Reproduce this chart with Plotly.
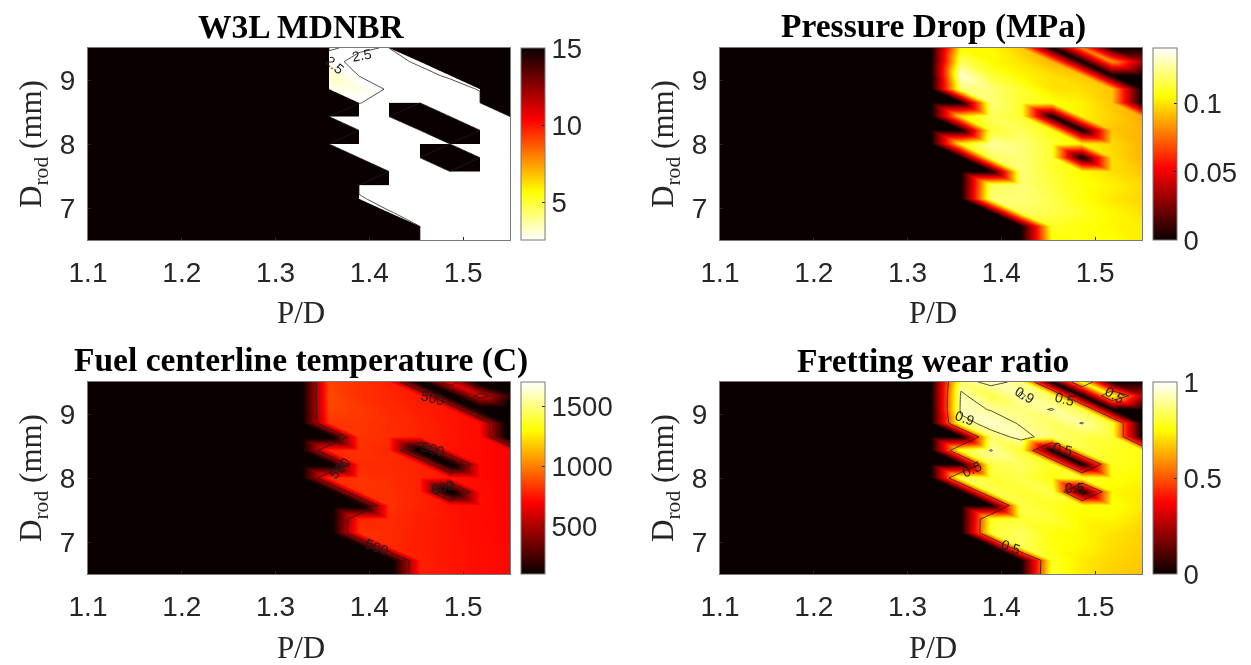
import plotly.graph_objects as go

pd_values = [1.1, 1.132, 1.164, 1.196, 1.229, 1.261, 1.293, 1.325, 1.357, 1.389, 1.421, 1.454, 1.486, 1.518, 1.55]
drod_values = [6.5, 6.714, 6.929, 7.143, 7.357, 7.571, 7.786, 8.0, 8.214, 8.429, 8.643, 8.857, 9.071, 9.286, 9.5]

# Rows run from the smallest Drod upward; 1000 / 0 mark the failed designs.
mdnbr = [
 [1000,1000,1000,1000,1000,1000,1000,1000,1000,1000,1000,2.2,2.2,2.2,2.2],
 [1000,1000,1000,1000,1000,1000,1000,1000,1000,1000,1000,2.3,2.2,2.2,2.2],
 [1000,1000,1000,1000,1000,1000,1000,1000,1000,1000,2.55,2.2,2.2,2.2,2.2],
 [1000,1000,1000,1000,1000,1000,1000,1000,1000,2.6,2.2,2.2,2.2,2.2,2.2],
 [1000,1000,1000,1000,1000,1000,1000,1000,1000,2.3,2.2,2.2,2.2,2.2,2.2],
 [1000,1000,1000,1000,1000,1000,1000,1000,1000,1000,2.2,2.2,2.2,2.2,2.2],
 [1000,1000,1000,1000,1000,1000,1000,1000,1000,2.2,2.2,2.2,1000,2.2,2.2],
 [1000,1000,1000,1000,1000,1000,1000,1000,2.3,2.2,2.2,2.2,2.2,2.2,2.2],
 [1000,1000,1000,1000,1000,1000,1000,1000,1000,2.2,2.2,2.2,1000,2.2,2.2],
 [1000,1000,1000,1000,1000,1000,1000,1000,2.3,2.2,2.2,1000,2.2,2.2,2.2],
 [1000,1000,1000,1000,1000,1000,1000,1000,1000,2.52,2.3,2.2,2.2,2.2,1000],
 [1000,1000,1000,1000,1000,1000,1000,1000,2.9,2.9,2.42,2.3,2.2,2.55,1000],
 [1000,1000,1000,1000,1000,1000,1000,1000,3.4,2.48,2.3,2.3,2.6,1000,1000],
 [1000,1000,1000,1000,1000,1000,1000,1000,2.7,2.3,2.3,2.6,1000,16,16],
 [1000,1000,1000,1000,1000,1000,1000,1000,2.45,2.6,2.45,1000,16,1000,1000],
]
pressure = [
 [0,0,0,0,0,0,0,0,0,0,0,.106,.107,.106,.102],
 [0,0,0,0,0,0,0,0,0,0,0,.110,.107,.104,.102],
 [0,0,0,0,0,0,0,0,0,0,.118,.116,.110,.104,.100],
 [0,0,0,0,0,0,0,0,0,.122,.122,.116,.107,.101,.097],
 [0,0,0,0,0,0,0,0,0,.118,.122,.114,.107,.103,.098],
 [0,0,0,0,0,0,0,0,0,0,.122,.112,.105,.099,.094],
 [0,0,0,0,0,0,0,0,0,.118,.122,.112,0,.099,.090],
 [0,0,0,0,0,0,0,0,.105,.127,.122,.112,.103,.098,.090],
 [0,0,0,0,0,0,0,0,0,.113,.118,.108,0,.094,.090],
 [0,0,0,0,0,0,0,0,.100,.118,.112,0,.103,.096,.088],
 [0,0,0,0,0,0,0,0,0,.122,.112,.107,.103,.094,0],
 [0,0,0,0,0,0,0,0,.122,.122,.112,.100,.099,.094,0],
 [0,0,0,0,0,0,0,0,.135,.113,.104,.099,.094,0,0],
 [0,0,0,0,0,0,0,0,.118,.105,.100,.090,0,.085,.035],
 [0,0,0,0,0,0,0,0,.105,.105,.095,0,.080,0,0],
]
temperature = [
 [0,0,0,0,0,0,0,0,0,0,0,770,750,730,715],
 [0,0,0,0,0,0,0,0,0,0,0,775,750,730,715],
 [0,0,0,0,0,0,0,0,0,0,795,770,750,730,715],
 [0,0,0,0,0,0,0,0,0,820,800,770,750,725,710],
 [0,0,0,0,0,0,0,0,0,790,805,770,750,725,710],
 [0,0,0,0,0,0,0,0,0,0,815,780,745,730,710],
 [0,0,0,0,0,0,0,0,0,815,815,780,0,730,710],
 [0,0,0,0,0,0,0,0,800,825,805,780,750,725,705],
 [0,0,0,0,0,0,0,0,0,800,800,780,0,725,705],
 [0,0,0,0,0,0,0,0,800,815,790,0,745,725,705],
 [0,0,0,0,0,0,0,0,0,825,805,780,750,725,0],
 [0,0,0,0,0,0,0,0,820,825,805,780,750,725,0],
 [0,0,0,0,0,0,0,0,860,835,800,770,745,0,0],
 [0,0,0,0,0,0,0,0,870,815,790,760,0,620,200],
 [0,0,0,0,0,0,0,0,860,815,780,0,680,0,0],
]
fretting = [
 [0,0,0,0,0,0,0,0,0,0,0,.80,.72,.68,.66],
 [0,0,0,0,0,0,0,0,0,0,0,.78,.72,.69,.67],
 [0,0,0,0,0,0,0,0,0,0,.84,.76,.74,.70,.68],
 [0,0,0,0,0,0,0,0,0,.80,.84,.76,.74,.71,.68],
 [0,0,0,0,0,0,0,0,0,.78,.80,.80,.74,.74,.70],
 [0,0,0,0,0,0,0,0,0,0,.82,.78,.76,.76,.72],
 [0,0,0,0,0,0,0,0,0,.82,.80,.82,0,.74,.72],
 [0,0,0,0,0,0,0,0,.84,.80,.82,.76,.80,.76,.74],
 [0,0,0,0,0,0,0,0,0,.82,.84,.78,0,.78,.76],
 [0,0,0,0,0,0,0,0,.80,.905,.80,0,.82,.78,.76],
 [0,0,0,0,0,0,0,0,0,.85,.93,.86,.82,.80,0],
 [0,0,0,0,0,0,0,0,.85,.95,.89,.84,.905,.80,0],
 [0,0,0,0,0,0,0,0,.93,.895,.87,.905,.82,0,0],
 [0,0,0,0,0,0,0,0,.92,.82,.91,.84,0,.78,.28],
 [0,0,0,0,0,0,0,0,.86,.93,.876,0,.78,0,0],
]

titles = ["W3L MDNBR", "Pressure Drop (MPa)", "Fuel centerline temperature (C)", "Fretting wear ratio"]
panels = [mdnbr, pressure, temperature, fretting]
cranges = [(2.6, 15), (0, 0.141), (100, 1700), (0, 1)]
cticks = [[5, 10, 15], [0, 0.05, 0.1], [500, 1000, 1500], [0, 0.5, 1]]
cticktext = [["5", "10", "15"], ["0", "0.05", "0.1"], ["500", "1000", "1500"], ["0", "0.5", "1"]]
contour_levels = [(2.5, 2.5, 1), None, (500, 500, 1000), (0.5, 0.9, 0.4)]
x_ticks = [1.1, 1.2, 1.3, 1.4, 1.5]
y_ticks = [7, 8, 9]
# text, pixel x, pixel y, angle of the labels written on the contour lines
contour_labels = [
    ("2.5", 362, 55, -10), ("2.5", 335, 65, 40),
    ("500", 433, 398, 15), ("500", 433, 449, 15), ("500", 443, 487, -15), ("500", 340, 468, -45), ("500", 377, 547, 20),
    ("0.5", 1065, 399, 15), ("0.5", 1063, 449, 15), ("0.5", 1075, 488, 0), ("0.5", 972, 469, -25), ("0.5", 1011, 547, 20),
    ("0.5", 1115, 395, 30), ("0.9", 965, 418, 20), ("0.9", 1025, 395, 30),
]

W, H = 1251, 665
hot = [[0, "rgb(10,0,0)"], [0.375, "rgb(255,0,0)"], [0.75, "rgb(255,255,0)"], [1, "rgb(255,255,255)"]]
hot_flipped = [[0, "rgb(255,255,255)"], [0.25, "rgb(255,255,0)"], [0.625, "rgb(255,0,0)"], [1, "rgb(10,0,0)"]]
lefts, tops = [88, 720], [48, 382]
PW, PH, BAR = 422, 192, 24
INK = "rgb(38,38,38)"
EDGE = "rgb(120,120,120)"

nx, ny = len(pd_values), len(drod_values)
vx = [pd_values[c] for r in range(ny) for c in range(nx)]
vy = [drod_values[r] for r in range(ny) for c in range(nx)]
tris = []
for r in range(ny - 1):
    for c in range(nx - 1):
        a, b, d, e = r*nx+c, r*nx+c+1, (r+1)*nx+c, (r+1)*nx+c+1
        tris += [(a, b, d), (b, d, e)]

fig = go.Figure()
layout = dict(width=W, height=H, margin=dict(l=0, r=0, t=0, b=0, autoexpand=False), showlegend=False,
              paper_bgcolor="rgba(0,0,0,0)", plot_bgcolor="rgba(0,0,0,0)",
              font=dict(family="Liberation Sans", color=INK), annotations=[])
for n in range(4):
    L, T = lefts[n % 2], tops[n // 2]
    dx = [L / W, (L + PW) / W]
    dy = [1 - (T + PH) / H, 1 - T / H]
    s = "" if n == 0 else str(n + 1)
    z = panels[n]
    flat = [z[r][c] for r in range(ny) for c in range(nx)]
    good = tris
    if n == 0:
        # Failed designs saturate the reversed scale: those triangles are plain black.
        good = [t for t in tris if max(flat[v] for v in t) <= cranges[0][1]]
        bad = [t for t in tris if max(flat[v] for v in t) > cranges[0][1]]
        fig.add_trace(go.Mesh3d(
            x=vx, y=vy, z=[0] * len(vx), i=[t[0] for t in bad], j=[t[1] for t in bad], k=[t[2] for t in bad],
            color="rgb(10,0,0)", flatshading=True, hoverinfo="skip", scene="scene" + s, showscale=False,
            lighting=dict(ambient=1, diffuse=0, specular=0, roughness=1, fresnel=0)))
    fig.add_trace(go.Mesh3d(
        x=vx, y=vy, z=[0] * len(vx), i=[t[0] for t in good], j=[t[1] for t in good], k=[t[2] for t in good],
        intensity=flat, intensitymode="vertex",
        colorscale=hot_flipped if n == 0 else hot, cmin=cranges[n][0], cmax=cranges[n][1],
        lighting=dict(ambient=1, diffuse=0, specular=0, roughness=1, fresnel=0),
        flatshading=False, hoverinfo="skip", scene="scene" + s, showscale=True,
        colorbar=dict(thicknessmode="pixels", thickness=BAR, lenmode="pixels", len=PH,
                      x=(L + PW + 11) / W, xanchor="left", xpad=0, ypad=0,
                      y=1 - T / H, yanchor="top",
                      tickvals=cticks[n], ticktext=cticktext[n], ticks="inside", ticklen=3,
                      tickcolor=INK, outlinecolor=EDGE, outlinewidth=1,
                      tickfont=dict(family="Liberation Sans", size=27.5, color=INK))))
    noaxis = dict(visible=False, showbackground=False, showgrid=False, zeroline=False, showspikes=False)
    layout["scene" + s] = dict(
        domain=dict(x=dx, y=dy), bgcolor="rgba(0,0,0,0)",
        aspectmode="manual", aspectratio=dict(x=2 * PW / PH, y=2, z=0.1),
        camera=dict(eye=dict(x=0, y=0, z=0.5), up=dict(x=0, y=1, z=0), center=dict(x=0, y=0, z=0),
                    projection=dict(type="orthographic")),
        xaxis=dict(range=[pd_values[0], pd_values[-1]], **noaxis),
        yaxis=dict(range=[drod_values[0], drod_values[-1]], **noaxis),
        zaxis=dict(range=[-1, 1], **noaxis))
    xa, ya = "x" + s, "y" + s
    if contour_levels[n]:
        st, en, sz = contour_levels[n]
        fig.add_trace(go.Contour(
            x=pd_values, y=drod_values, z=z, xaxis=xa, yaxis=ya, showscale=False, hoverinfo="skip",
            autocontour=False,
            contours=dict(coloring="none", start=st, end=en, size=sz, showlabels=False),
            line=dict(color="rgb(30,30,30)", width=0.8, smoothing=0)))
    else:
        fig.add_trace(go.Scatter(x=[], y=[], xaxis=xa, yaxis=ya, hoverinfo="skip"))
    ax = dict(showgrid=False, zeroline=False, showline=True, mirror=True, linecolor=EDGE, linewidth=1,
              ticks="inside", ticklen=3, tickcolor=INK,
              tickfont=dict(family="Liberation Sans", size=28, color=INK))
    layout["xaxis" + s] = dict(domain=dx, range=[pd_values[0], pd_values[-1]], anchor=ya, ticklabelstandoff=7,
                               tickvals=x_ticks, ticktext=[f"{v:.1f}" for v in x_ticks], **ax)
    layout["yaxis" + s] = dict(domain=dy, range=[drod_values[0], drod_values[-1]], anchor=xa, ticklabelstandoff=6,
                               tickvals=y_ticks, ticktext=[str(v) for v in y_ticks], **ax)
    layout["annotations"] += [
        dict(text="<b>%s</b>" % titles[n], x=(L + PW / 2 + 2) / W, y=1 - (T - 22) / H, xref="paper", yref="paper",
             showarrow=False, xanchor="center", yanchor="middle",
             font=dict(family="Liberation Serif", size=33.5, color="black")),
        dict(text="P/D", x=(L + PW / 2 + 2) / W, y=1 - (T + PH + 73) / H, xref="paper", yref="paper",
             showarrow=False, xanchor="center", yanchor="middle",
             font=dict(family="Liberation Serif", size=31, color=INK)),
        dict(text="D<sub>rod</sub> (mm)", x=(L - 55) / W, y=1 - (T + PH / 2) / H, xref="paper", yref="paper",
             showarrow=False, textangle=-90, xanchor="center", yanchor="middle",
             font=dict(family="Liberation Serif", size=31, color=INK)),
    ]
for text, px, py, angle in contour_labels:
    layout["annotations"].append(dict(
        text=text, x=px / W, y=1 - py / H, xref="paper", yref="paper", showarrow=False, textangle=angle,
        xanchor="center", yanchor="middle", font=dict(family="Liberation Sans", size=14, color="rgb(30,30,30)")))
fig.update_layout(**layout)

# Put the WebGL fill layer under the SVG axes and contour lines; no page margin.
post = """
document.body.style.margin = '0';
var root = document.getElementsByClassName('plotly-graph-div')[0];
var svgs = root.querySelectorAll('.main-svg');
svgs.forEach(function(s, n){ s.style.zIndex = 2 + n; });
var gl = root.querySelector('.gl-container');
if (gl) { gl.style.zIndex = 1; }
"""
fig.write_html("out.html", post_script=post, config=dict(displayModeBar=False))
